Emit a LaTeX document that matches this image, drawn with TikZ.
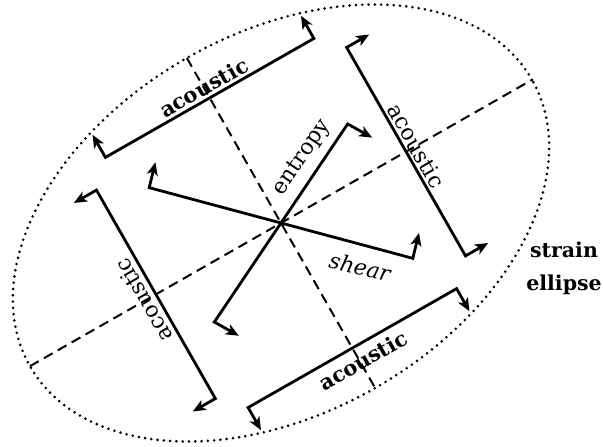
\documentclass[tikz,border=0pt]{standalone}
\usepackage{fontspec}
\setmainfont{DejaVu Serif}
\usetikzlibrary{arrows.meta}
\begin{document}
\begin{tikzpicture}[x=1pt,y=1pt,
  tipA/.tip={Stealth[length=13pt,width=11pt,inset=3.5pt]},
  wave/.style={line width=2.8pt, line join=miter, tipA-tipA},
  axisline/.style={line width=2pt, dash pattern=on 10pt off 6pt},
  rim/.style={line width=2.9pt, line cap=round, dash pattern=on 0pt off 6.3pt},
  lab/.style={inner sep=0pt, font=\fontsize{22}{24}\selectfont},
  blab/.style={inner sep=0pt, font=\fontsize{21}{24}\selectfont\bfseries},
]
\useasboundingbox (0,0) rectangle (603,-447);
\begin{scope}[shift={(281,-223)}, rotate=29.7]
  \coordinate (C) at (0,0);
  \draw[rim] (C) ellipse [x radius=289pt, y radius=190pt];
  % axes
  \coordinate (M1) at (-289,0);
  \coordinate (M2) at (289,0);
  \coordinate (N1) at (0,190);
  \coordinate (N2) at (0,-190);
  \draw[axisline] (M1) -- (M2);
  \draw[axisline] (N1) -- (N2);
  % top acoustic
  \coordinate (t1) at (-120,170); \coordinate (t2) at (-120,144);
  \coordinate (t3) at (120,144);  \coordinate (t4) at (120,170);
  \draw[wave] (t1) -- (t2) -- (t3) -- (t4);
  % bottom acoustic
  \coordinate (b1) at (-120,-170); \coordinate (b2) at (-120,-144);
  \coordinate (b3) at (120,-144);  \coordinate (b4) at (120,-170);
  \draw[wave] (b1) -- (b2) -- (b3) -- (b4);
  % right acoustic
  \coordinate (r1) at (170,120); \coordinate (r2) at (144,120);
  \coordinate (r3) at (144,-120); \coordinate (r4) at (170,-120);
  \draw[wave] (r1) -- (r2) -- (r3) -- (r4);
  % left acoustic
  \coordinate (l1) at (-170,120); \coordinate (l2) at (-144,120);
  \coordinate (l3) at (-144,-120); \coordinate (l4) at (-170,-120);
  \draw[wave] (l1) -- (l2) -- (l3) -- (l4);
  % entropy
  \coordinate (e1) at (121.5,29); \coordinate (e2) at (107,53);
  \coordinate (e3) at (-107,-53); \coordinate (e4) at (-92.5,-77);
  \draw[wave] (e1) -- (e2) -- (e3) -- (e4);
  % shear
  \coordinate (s1) at (-79,115); \coordinate (s2) at (-97,96);
  \coordinate (s3) at (97,-96); \coordinate (s4) at (115,-77);
  \draw[wave] (s1) -- (s2) -- (s3) -- (s4);
  % labels
  \node[blab, rotate=29.7] (atop) at (0,156) {acoustic};
  \node[blab, rotate=29.7] (abot) at (3,-160) {acoustic};
  \node[lab, rotate=-60.3] (aright) at (156,0) {acoustic};
  \node[lab, rotate=119.7] (aleft) at (-158,1) {acoustic};
  \node[lab, rotate=56] (ent) at (51,46) {entropy};
  \node[lab, font=\fontsize{22}{24}\selectfont\itshape, rotate=-13] (sh) at (47,-77) {shear};
\end{scope}
\node[blab, font=\fontsize{20.5}{24}\selectfont\bfseries, anchor=base] (strain) at (564,-257) {strain};
\node[blab, font=\fontsize{20.5}{24}\selectfont\bfseries, anchor=base] (ellip) at (564,-290) {ellipse};
\end{tikzpicture}
\end{document}
